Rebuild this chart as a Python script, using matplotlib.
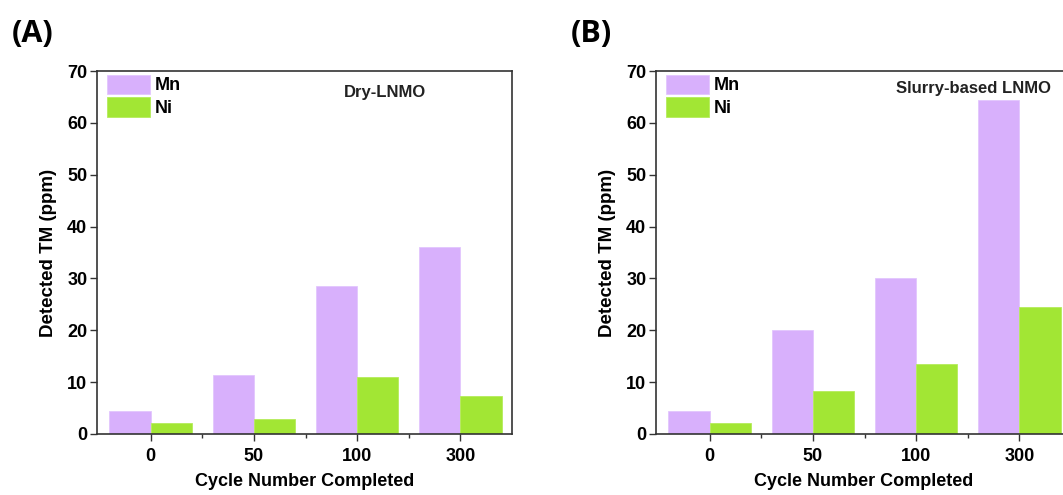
import matplotlib
matplotlib.use("Agg")
import matplotlib.pyplot as plt
import numpy as np

plt.rcParams['font.family'] = ['Liberation Sans', 'DejaVu Sans']
plt.rcParams['font.weight'] = 'bold'

categories = ["0", "50", "100", "300"]
dry_mn = [4.5, 11.4, 28.5, 36.0]
dry_ni = [2.2, 2.9, 10.9, 7.4]
slurry_mn = [4.4, 20.1, 30.1, 64.4]
slurry_ni = [2.2, 8.2, 13.5, 24.5]
yticks = [0, 10, 20, 30, 40, 50, 60, 70]

MN_COLOR = '#D8B0FC'
NI_COLOR = '#A2E634'
SPINE = '#333333'

W, H = 1063, 495
fig = plt.figure(figsize=(W / 100, H / 100), dpi=100)

def make_panel(left_px, mn, ni, label, note, note_xy):
    ax = fig.add_axes([left_px / W, (H - 434) / H, 415 / W, 363 / H])
    x = np.arange(len(categories))
    bw = 0.40
    ax.bar(x - bw / 2, mn, width=bw, color=MN_COLOR, edgecolor='#E2C6FD', linewidth=0.6, label='Mn')
    ax.bar(x + bw / 2, ni, width=bw, color=NI_COLOR, edgecolor='#B5EC5C', linewidth=0.6, label='Ni')
    ax.set_xlim(-0.52, 3.5)
    ax.set_ylim(0, 70)
    ax.set_yticks(yticks)
    ax.set_xticks(x)
    ax.set_xticklabels(categories)
    ax.set_xticks(x[:-1] + 0.5, minor=True)
    ax.tick_params(axis='x', which='minor', length=3, width=1.0, color=SPINE, direction='out')
    ax.tick_params(axis='both', which='major', labelsize=13, length=5, width=1.0,
                   color=SPINE, direction='out', pad=2)
    ax.tick_params(axis='x', which='major', pad=5)
    for lab in ax.get_xticklabels() + ax.get_yticklabels():
        lab.set_fontweight('bold')
    for s in ax.spines.values():
        s.set_linewidth(1.2)
        s.set_color(SPINE)
    ax.set_xlabel('Cycle Number Completed', fontsize=13, fontweight='bold', labelpad=6)
    ax.set_ylabel('Detected TM (ppm)', fontsize=13.5, fontweight='bold', labelpad=7)
    ax.legend(loc='upper left', bbox_to_anchor=(0.024, 0.99), frameon=False,
              borderpad=0, borderaxespad=0, handlelength=2.4, handleheight=1.27,
              labelspacing=0.17, handletextpad=0.25,
              prop={'size': 13, 'weight': 'bold'})
    ax.text(note_xy[0], note_xy[1], note, transform=ax.transAxes, ha='center', va='center',
            fontsize=12, fontweight='bold', color='#222222')
    fig.text((left_px - 85) / W, 1 - 34 / H, label, fontsize=22, fontweight='bold',
             family=['Open Sans', 'DejaVu Sans'], va='center', ha='left')
    return ax

make_panel(97, dry_mn, dry_ni, '(A)', 'Dry-LNMO', (0.694, 0.94))
make_panel(656, slurry_mn, slurry_ni, '(B)', 'Slurry-based LNMO', (0.764, 0.953))

fig.savefig('out.png', dpi=100)
